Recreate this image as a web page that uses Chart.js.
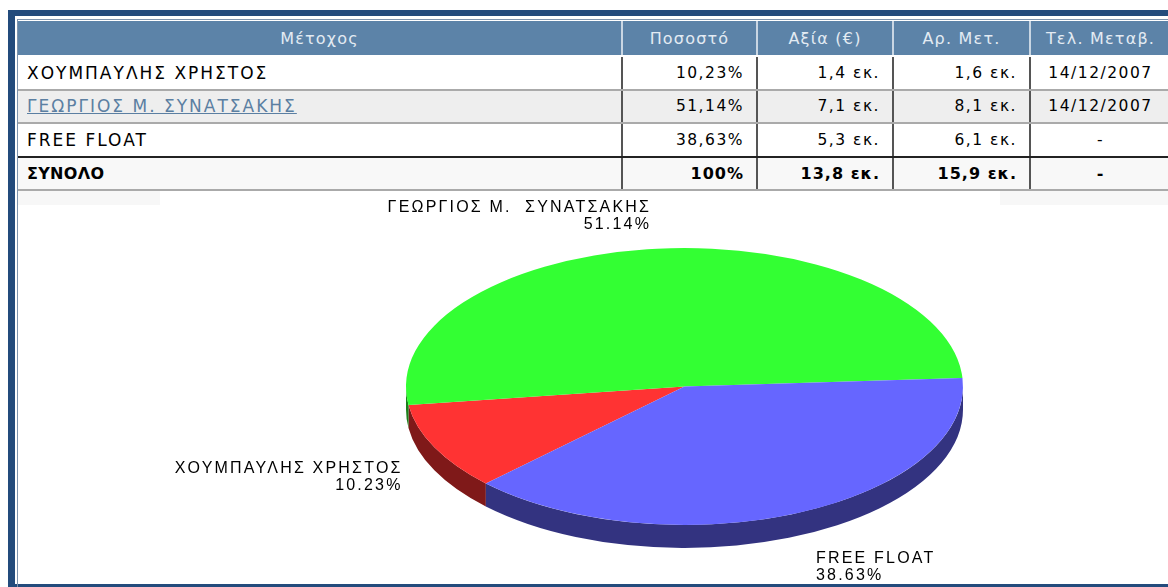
<!DOCTYPE html>
<html lang="el">
<head>
<meta charset="UTF-8">
<title>Μέτοχοι</title>
<script src="https://cdn.jsdelivr.net/npm/chart.js@4.4.1/dist/chart.umd.min.js"></script>
<style>
    body { margin:0; background:#fff; width:1168px; height:587px; overflow:hidden; position:relative;
           font-family:"DejaVu Sans", Verdana, sans-serif; }
    .blue { position:absolute; background:#234b7c; }
    #inner { position:absolute; left:17px; top:19px; width:1170px; height:570px;
             border-left:1px solid #7d93ad; border-top:1px solid #7d93ad; }
    #tbl { position:absolute; left:18px; top:21px; border-collapse:collapse; table-layout:fixed; width:1152px; }
    #tbl th { height:34px; background:#5c83a8; color:#e3ebf3; font-weight:normal; font-size:16px;
              letter-spacing:1.2px; border-left:2px solid #c9d6e3; border-bottom:2px solid #fff; padding:0; }
    #tbl th:first-child { border-left:none; }
    #tbl td { height:31.5px; font-size:15.5px; letter-spacing:1.5px; color:#000; border-left:2px solid #555;
              border-bottom:2px solid #aaa; padding:0 12px 0 9px; text-align:right; white-space:nowrap; }
    #tbl td:first-child { text-align:left; border-left:none; font-size:17px; letter-spacing:2px; }
    #tbl td.c { text-align:center; padding:0; }
    #tbl tr.alt td { background:#eeeeee; }
    #tbl tr.last td { border-bottom-color:#222; }
    #tbl tr.sum td { background:#f8f8f8; font-weight:bold; font-size:16px; letter-spacing:1px; }
    #tbl tr.sum td:first-child { letter-spacing:0.3px; }
    #tbl a { color:#5b7fa2; }
    .strip { position:absolute; top:190px; height:15px; background:#f7f7f7; }
    #box { position:absolute; left:17px; top:192px; width:1151px; height:389px; }
</style>
</head>
<body>
<div class="blue" style="left:8px; top:10px; width:1170px; height:6px;"></div>
<div class="blue" style="left:8px; top:10px; width:7px; height:577px;"></div>
<div class="blue" style="left:8px; top:584px; width:1170px; height:3px;"></div>
<div id="inner"></div>
<div class="strip" style="left:18px; width:142px;"></div>
<div class="strip" style="left:1000px; width:168px;"></div>

<table id="tbl">
    <colgroup><col style="width:604px"><col style="width:135px"><col style="width:136px"><col style="width:137px"><col style="width:140px"></colgroup>
    <thead><tr id="head"></tr></thead>
    <tbody id="rows"></tbody>
</table>

<div id="box"><canvas id="chart"></canvas></div>

<script>
    const columns = ['Μέτοχος', 'Ποσοστό', 'Αξία (€)', 'Αρ. Μετ.', 'Τελ. Μεταβ.'];
    const holders = ['ΧΟΥΜΠΑΥΛΗΣ ΧΡΗΣΤΟΣ', 'ΓΕΩΡΓΙΟΣ Μ. ΣΥΝΑΤΣΑΚΗΣ', 'FREE FLOAT'];
    const pieLabels = ['ΧΟΥΜΠΑΥΛΗΣ ΧΡΗΣΤΟΣ', 'ΓΕΩΡΓΙΟΣ Μ.  ΣΥΝΑΤΣΑΚΗΣ', 'FREE FLOAT'];
    const percents = [10.23, 51.14, 38.63];
    const values = [1.4, 7.1, 5.3];       // εκ. €
    const shares = [1.6, 8.1, 6.1];       // εκ. μετοχές
    const lastChange = ['14/12/2007', '14/12/2007', '-'];
    const totalLabel = 'ΣΥΝΟΛΟ';
    const totals = ['100%', 13.8, 15.9, '-'];
    const topColors = ['#ff3333', '#33ff33', '#6666ff'];
    const sideColors = ['#7f1919', '#1a801a', '#333380'];

    // πίνακας
    const fmt = v => v.toFixed(1).replace('.', ',') + ' εκ.';
    document.getElementById('head').innerHTML = columns.map(c => '<th>' + c + '</th>').join('');
    let html = '';
    holders.forEach((h, i) => {
        const cls = i === 1 ? 'alt' : (i === holders.length - 1 ? 'last' : '');
        const name = i === 1 ? '<a href="#">' + h + '</a>' : h;
        html += '<tr class="' + cls + '"><td>' + name + '</td><td>' + percents[i].toFixed(2).replace('.', ',') + '%</td>' +
            '<td>' + fmt(values[i]) + '</td><td>' + fmt(shares[i]) + '</td><td class="c">' + lastChange[i] + '</td></tr>';
    });
    html += '<tr class="sum"><td>' + totalLabel + '</td><td>' + totals[0] + '</td><td>' + fmt(totals[1]) + '</td><td>' +
        fmt(totals[2]) + '</td><td class="c">' + totals[3] + '</td></tr>';
    document.getElementById('rows').innerHTML = html;

    // 3D πίτα: συμπίεση κάθετα + πλευρικό τοίχωμα
    const squash = 0.497;
    const depth = 23;

    function sideWall(ctx, a, color, d) {
        const p = a.getProps(['x', 'y', 'startAngle', 'endAngle', 'outerRadius'], true);
        for (let k = -1; k <= 2; k++) {
            const lo = Math.max(p.startAngle, 2 * Math.PI * k);
            const hi = Math.min(p.endAngle, 2 * Math.PI * k + Math.PI);
            if (hi <= lo) continue;
            ctx.beginPath();
            ctx.arc(p.x, p.y, p.outerRadius, lo, hi);
            ctx.arc(p.x, p.y + d, p.outerRadius, hi, lo, true);
            ctx.closePath();
            ctx.fillStyle = color;
            ctx.fill();
        }
    }

    const pie3d = {
        id: 'pie3d',
        beforeDatasetDraw(chart, args) {
            const ctx = chart.ctx;
            const arcs = args.meta.data;
            const cx = arcs[0].x, cy = arcs[0].y;
            ctx.save();
            ctx.translate(cx, cy);
            ctx.scale(1, squash);
            ctx.translate(-cx, -cy);
            arcs.forEach((a, i) => sideWall(ctx, a, sideColors[i], depth / squash));
            arcs.forEach(a => a.draw(ctx));
            ctx.restore();

            // ετικέτες
            ctx.save();
            ctx.font = '16px "Liberation Sans", Arial, sans-serif';
            ctx.letterSpacing = '2.2px';
            ctx.fillStyle = '#000';
            ctx.textBaseline = 'middle';
            arcs.forEach((a, i) => {
                const mid = (a.startAngle + a.endAngle) / 2;
                const c = Math.cos(mid), s = Math.sin(mid);
                const rx = a.outerRadius, ry = a.outerRadius * squash;
                const ax = cx + (rx + 32) * c + (c > 0 ? 5 : -3);
                const ay = cy + (ry + 16) * s + (s > 0 ? depth : 0);
                ctx.textAlign = c < 0 ? 'right' : 'left';
                let y1;
                if (Math.abs(s) < 0.5) y1 = ay - 8.5;
                else if (s < 0) y1 = ay - 25.5;
                else y1 = ay + 8.5;
                ctx.fillText(pieLabels[i], ax, y1);
                ctx.fillText(percents[i].toFixed(2) + '%', ax, y1 + 17);
            });
            ctx.restore();
            return false;
        }
    };

    new Chart(document.getElementById('chart'), {
        type: 'pie',
        data: {
            labels: pieLabels,
            datasets: [{
                data: percents,
                backgroundColor: topColors,
                borderWidth: 0,
                radius: 278.5,
                rotation: 225.5
            }]
        },
        options: {
            responsive: true,
            maintainAspectRatio: false,
            animation: false,
            events: [],
            layout: { padding: { left: 184, right: 0, top: 0, bottom: 0 } },
            plugins: { legend: { display: false }, tooltip: { enabled: false } }
        },
        plugins: [pie3d]
    });
</script>
</body>
</html>
